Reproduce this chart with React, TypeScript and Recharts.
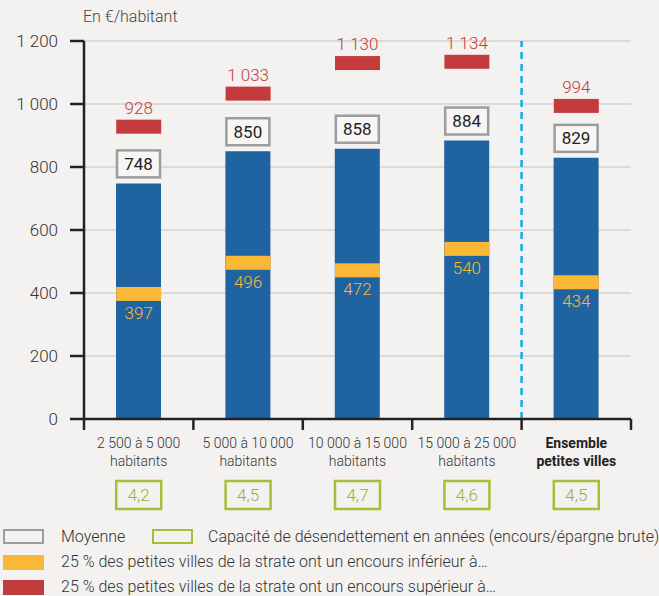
import React from 'react';
import {
  ComposedChart,
  Bar,
  Scatter,
  XAxis,
  YAxis,
  CartesianGrid,
  ReferenceLine,
  LabelList,
} from 'recharts';

const strates = ['2 500 à 5 000', '5 000 à 10 000', '10 000 à 15 000', '15 000 à 25 000', 'Ensemble'];
const strateLigne2 = ['habitants', 'habitants', 'habitants', 'habitants', 'petites villes'];
const moyenne = [748, 850, 858, 884, 829];
const quartileBas = [397, 496, 472, 540, 434];
const quartileHaut = [928, 1033, 1130, 1134, 994];
const capacite = [4.2, 4.5, 4.7, 4.6, 4.5];
const yTicks = [0, 200, 400, 600, 800, 1000, 1200];

const W = 659;
const H = 520;
const MARGIN = { top: 41, right: 28, bottom: 0, left: 0 };
const Y_WIDTH = 84;
const BAR = 45;
const BAND = 14;
const FONT = 'Roboto, "Noto Sans", sans-serif';

const BG = '#f3f2f0';
const BLUE = '#2063a1';
const ORANGE = '#fbb736';
const RED = '#c43b3e';
const GREY = '#9d9d9d';
const GREEN = '#a4c03a';

const data = strates.map((s, i) => ({
  strate: s,
  ligne2: strateLigne2[i],
  moyenne: moyenne[i],
  bas: quartileBas[i],
  haut: quartileHaut[i],
  capacite: capacite[i],
}));

function fmt(n: number): string {
  return String(n).replace(/\B(?=(\d{3})+(?!\d))/g, ' ');
}

const halfBand = (W - Y_WIDTH - MARGIN.right) / strates.length / 2;

const CategoryTick = (props: any) => {
  const { x, y, index, payload } = props;
  const last = index === strates.length - 1;
  const row = data[index];
  return (
    <g>
      <line x1={x - halfBand} x2={x - halfBand} y1={y} y2={y + 11} stroke="#222" strokeWidth={2.5} />
      {last && (
        <line x1={x + halfBand} x2={x + halfBand} y1={y} y2={y + 11} stroke="#222" strokeWidth={2.5} />
      )}
      <text
        x={x}
        y={y + 29}
        textAnchor="middle"
        fontSize={14}
        fontWeight={last ? 700 : 300}
        fill={last ? '#222' : '#333'}
        fontFamily={FONT}
      >
        {payload.value}
      </text>
      <text
        x={x}
        y={y + 47}
        textAnchor="middle"
        fontSize={14}
        fontWeight={last ? 700 : 300}
        fill={last ? '#222' : '#333'}
        fontFamily={FONT}
      >
        {row.ligne2}
      </text>
      <rect x={x - BAR / 2} y={y + 62} width={BAR} height={28} fill="none" stroke={GREEN} strokeWidth={2.5} />
      <text x={x} y={y + 82} textAnchor="middle" fontSize={17} fontWeight={300} fill="#95b22c" fontFamily={FONT}>
        {row.capacite.toFixed(1).replace('.', ',')}
      </text>
    </g>
  );
};

const BasShape = (props: any) => {
  const { cx, cy, payload } = props;
  return (
    <g>
      <rect x={cx - BAR / 2} y={cy - BAND / 2} width={BAR} height={BAND} fill={ORANGE} />
      <text x={cx} y={cy + 25} textAnchor="middle" fontSize={17} fontWeight={300} fill={ORANGE} fontFamily={FONT}>
        {fmt(payload.bas)}
      </text>
    </g>
  );
};

const HautShape = (props: any) => {
  const { cx, cy, payload } = props;
  return (
    <g>
      <rect x={cx - BAR / 2} y={cy - BAND / 2} width={BAR} height={BAND} fill={RED} />
      <text x={cx} y={cy - 13} textAnchor="middle" fontSize={17} fontWeight={300} fill={RED} fontFamily={FONT}>
        {fmt(payload.haut)}
      </text>
    </g>
  );
};

const MoyenneLabel = (props: any) => {
  const { x, y, width, value } = props;
  const top = y - 6 - 27;
  return (
    <g>
      <rect x={x + 1} y={top} width={width - 2} height={27} fill="#f7f6f4" stroke={GREY} strokeWidth={2.5} />
      <text
        x={x + width / 2}
        y={top + 13.5}
        textAnchor="middle"
        dominantBaseline="central"
        fontSize={17}
        fill="#222"
        fontFamily={FONT}
      >
        {fmt(value)}
      </text>
    </g>
  );
};

const legendText: React.CSSProperties = {
  position: 'absolute',
  fontSize: 16,
  fontWeight: 300,
  color: '#333',
  lineHeight: '18px',
  whiteSpace: 'nowrap',
};

const legendBox: React.CSSProperties = {
  position: 'absolute',
  left: 3,
  width: 41,
  height: 15,
  boxSizing: 'border-box',
};

export default function App() {
  return (
    <div style={{ position: 'relative', width: W, height: 596, background: BG, fontFamily: FONT, overflow: 'hidden' }}>
      <style>{`body{margin:0;background:${BG};}`}</style>
      <div style={{ ...legendText, left: 83, top: 8, color: '#444' }}>En €/habitant</div>
      <ComposedChart width={W} height={H} data={data} margin={MARGIN}>
        <CartesianGrid horizontal vertical={false} stroke="#d2d2d2" strokeWidth={1.5} />
        <YAxis
          width={Y_WIDTH}
          domain={[0, 1200]}
          ticks={yTicks}
          interval={0}
          tickFormatter={fmt}
          tickSize={14}
          tickMargin={12}
          axisLine={{ stroke: '#222', strokeWidth: 2.5 }}
          tickLine={{ stroke: '#222', strokeWidth: 2.5 }}
          tick={{ fill: '#333', fontSize: 17, fontWeight: 300, fontFamily: FONT }}
        />
        <XAxis
          dataKey="strate"
          height={H - 419}
          interval={0}
          tickLine={false}
          tickSize={0}
          tickMargin={0}
          axisLine={{ stroke: '#222', strokeWidth: 2.5 }}
          tick={<CategoryTick />}
        />
        <ReferenceLine
          x="Ensemble"
          position="start"
          stroke="#1aa9e4"
          strokeWidth={2.5}
          strokeDasharray="7 5"
        />
        <Bar dataKey="moyenne" barSize={BAR} fill={BLUE} isAnimationActive={false}>
          <LabelList dataKey="moyenne" content={<MoyenneLabel />} />
        </Bar>
        <Scatter dataKey="bas" shape={<BasShape />} isAnimationActive={false} />
        <Scatter dataKey="haut" shape={<HautShape />} isAnimationActive={false} />
      </ComposedChart>
      <div style={{ ...legendBox, top: 529, border: `2.5px solid ${GREY}` }} />
      <div style={{ ...legendText, left: 61, top: 528 }}>Moyenne</div>
      <div style={{ ...legendBox, left: 152, top: 529, border: `2.5px solid ${GREEN}` }} />
      <div style={{ ...legendText, left: 208, top: 528 }}>Capacité de désendettement en années (encours/épargne brute)</div>
      <div style={{ ...legendBox, top: 555, background: ORANGE }} />
      <div style={{ ...legendText, left: 61, top: 553 }}>25 % des petites villes de la strate ont un encours inférieur à…</div>
      <div style={{ ...legendBox, top: 580, background: RED }} />
      <div style={{ ...legendText, left: 61, top: 578 }}>25 % des petites villes de la strate ont un encours supérieur à…</div>
    </div>
  );
}
